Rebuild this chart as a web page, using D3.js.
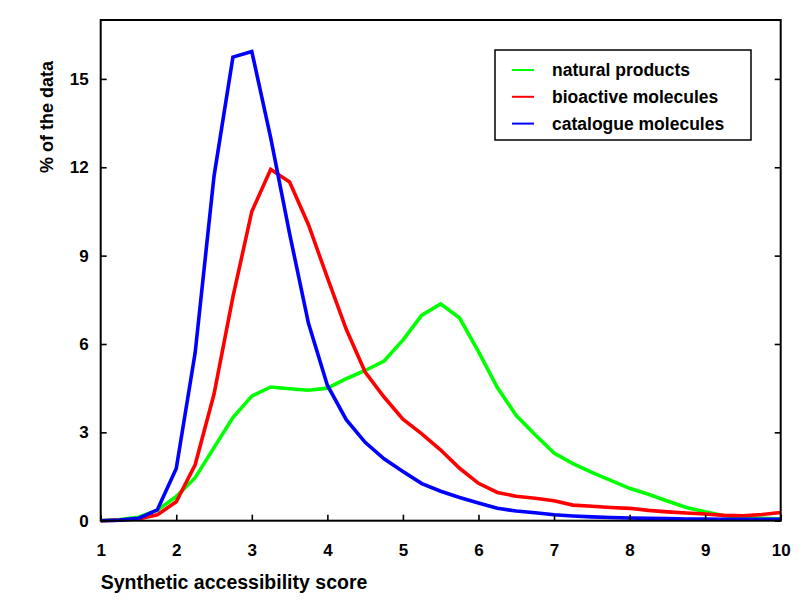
<!DOCTYPE html>
<html lang="en">
<head>
    <meta charset="UTF-8">
    <title>Synthetic accessibility score</title>
    <script src="https://d3js.org/d3.v7.min.js"></script>
    <style>
        html, body { margin: 0; background: #fff; overflow: hidden; }
        text { font-family: Arial, "Liberation Sans", sans-serif; font-weight: bold; }
    </style>
</head>
<body>
    <svg id="svg" width="800" height="600"></svg>
    <script>
        // score bins (every 0.25)
        const scores = [1, 1.25, 1.5, 1.75, 2, 2.25, 2.5, 2.75, 3, 3.25, 3.5, 3.75, 4, 4.25, 4.5, 4.75,
            5, 5.25, 5.5, 5.75, 6, 6.25, 6.5, 6.75, 7, 7.25, 7.5, 7.75, 8, 8.25, 8.5, 8.75,
            9, 9.25, 9.5, 9.75, 10];

        const natural = [0, 0.04, 0.12, 0.36, 0.82, 1.46, 2.48, 3.5, 4.23, 4.54, 4.48, 4.43, 4.5, 4.82, 5.1, 5.42,
            6.13, 6.98, 7.36, 6.88, 5.74, 4.52, 3.57, 2.92, 2.3, 1.94, 1.64, 1.37, 1.1, 0.9, 0.67, 0.45,
            0.3, 0.17, 0.12, 0.08, 0.06];

        const bioactive = [0, 0.02, 0.06, 0.2, 0.64, 1.9, 4.3, 7.6, 10.5, 11.93, 11.5, 10.05, 8.25, 6.5, 5.05, 4.2,
            3.45, 2.95, 2.4, 1.78, 1.27, 0.96, 0.83, 0.76, 0.68, 0.53, 0.49, 0.45, 0.42, 0.35, 0.3, 0.26,
            0.23, 0.18, 0.17, 0.21, 0.28];

        const catalogue = [0, 0.02, 0.08, 0.37, 1.77, 5.7, 11.7, 15.74, 15.93, 13.0, 9.75, 6.7, 4.6, 3.43, 2.66, 2.1,
            1.67, 1.26, 1.0, 0.79, 0.6, 0.42, 0.33, 0.27, 0.2, 0.16, 0.13, 0.11, 0.09, 0.08, 0.07, 0.06,
            0.06, 0.05, 0.05, 0.05, 0.05];

        const seriesNames = ['natural products', 'bioactive molecules', 'catalogue molecules'];
        const seriesColors = ['#00ff00', '#ff0000', '#0000ff'];
        const seriesValues = [natural, bioactive, catalogue];

        const xTicks = [1, 2, 3, 4, 5, 6, 7, 8, 9, 10];
        const yTicks = [0, 3, 6, 9, 12, 15];

        const svg = d3.select('#svg');
        const plot = { left: 100.7, right: 780.7, top: 20, bottom: 520.7 };

        const x = d3.scaleLinear().domain([1, 10]).range([plot.left, plot.right]);
        const y = d3.scaleLinear().domain([0, 17]).range([plot.bottom, plot.top]);

        // lines
        const line = d3.line()
            .x((d, i) => x(scores[i]))
            .y(d => y(d));

        svg.append('g').selectAll('path').data(seriesValues).join('path')
            .attr('d', line)
            .attr('fill', 'none')
            .attr('stroke', (d, i) => seriesColors[i])
            .attr('stroke-width', 3.6)
            .attr('stroke-linejoin', 'miter');

        // axes
        const styleAxis = g => {
            g.select('.domain').remove();
            g.selectAll('line').attr('stroke', '#000').attr('stroke-width', 1.6);
            g.selectAll('text').attr('font-size', 17).attr('fill', '#000')
                .attr('font-family', 'Arial, "Liberation Sans", sans-serif');
        };

        svg.append('g').attr('transform', `translate(0,${plot.bottom})`)
            .call(d3.axisBottom(x).tickValues(xTicks).tickFormat(d3.format('d'))
                .tickSizeInner(-6).tickSizeOuter(0).tickPadding(23))
            .call(styleAxis);

        svg.append('g').attr('transform', `translate(${plot.left},0)`)
            .call(d3.axisLeft(y).tickValues(yTicks).tickFormat(d3.format('d'))
                .tickSizeInner(-6).tickSizeOuter(0).tickPadding(12))
            .call(styleAxis);

        svg.append('g').attr('transform', `translate(${plot.right},0)`)
            .call(d3.axisRight(y).tickValues(yTicks).tickFormat('')
                .tickSizeInner(-6).tickSizeOuter(0))
            .call(styleAxis);

        // frame
        svg.append('rect')
            .attr('x', plot.left).attr('y', plot.top)
            .attr('width', plot.right - plot.left).attr('height', plot.bottom - plot.top)
            .attr('fill', 'none').attr('stroke', '#000').attr('stroke-width', 2);

        // axis titles
        svg.append('text')
            .attr('x', plot.left).attr('y', 589)
            .attr('font-size', 19.5)
            .text('Synthetic accessibility score');

        svg.append('text')
            .attr('transform', 'translate(53,117) rotate(-90)')
            .attr('text-anchor', 'middle')
            .attr('font-size', 18)
            .text('% of the data');

        // legend
        const legend = svg.append('g');
        legend.append('rect')
            .attr('x', 495).attr('y', 50).attr('width', 256).attr('height', 90)
            .attr('fill', '#fff').attr('stroke', '#000').attr('stroke-width', 1.5);

        const rows = legend.selectAll('.row').data(seriesNames).join('g')
            .attr('class', 'row')
            .attr('transform', (d, i) => `translate(0,${70 + i * 26.8})`);

        rows.append('line')
            .attr('x1', 512).attr('x2', 534)
            .attr('stroke', (d, i) => seriesColors[i])
            .attr('stroke-width', 2);

        rows.append('text')
            .attr('x', 552).attr('dy', '0.36em')
            .attr('font-size', 17.5)
            .text(d => d);
    </script>
</body>
</html>
